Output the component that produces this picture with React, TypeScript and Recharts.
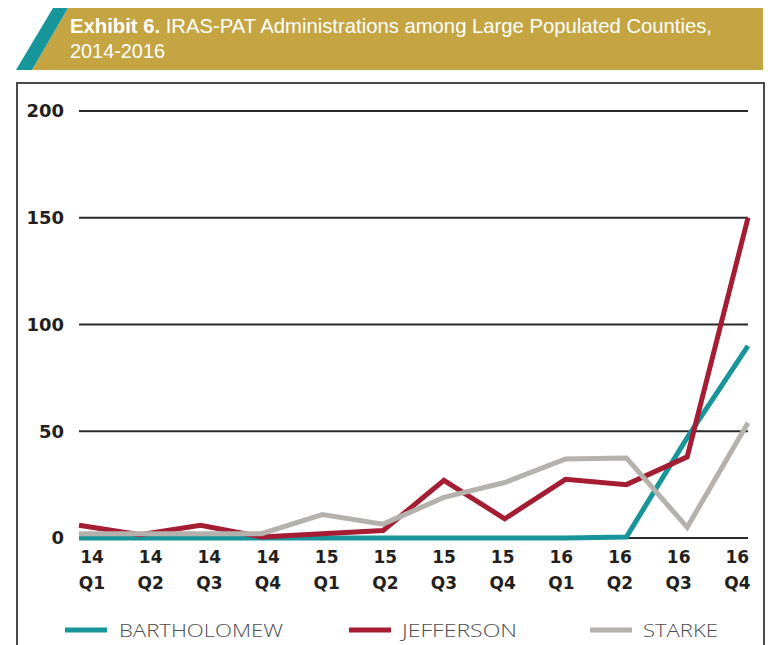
import React from 'react';
import { LineChart, Line, XAxis, YAxis, CartesianGrid, Legend } from 'recharts';

const quarters = ['14 Q1', '14 Q2', '14 Q3', '14 Q4', '15 Q1', '15 Q2', '15 Q3', '15 Q4', '16 Q1', '16 Q2', '16 Q3', '16 Q4'];
const bartholomew = [0, 0, 0, 0, 0, 0, 0, 0, 0, 0.5, 47, 90];
const jefferson = [6, 1.5, 6, 0.5, 2, 3.5, 27, 9, 27.5, 25, 38, 150];
const starke = [2, 2, 2, 2, 11, 6.5, 19, 26, 37, 37.5, 5, 54];
const yTicks = [0, 50, 100, 150, 200];

const TEAL = '#17959a';
const RED = '#a51d33';
const GREY = '#b5b1ac';

const series = [
    { key: 'BARTHOLOMEW', color: TEAL },
    { key: 'JEFFERSON', color: RED },
    { key: 'STARKE', color: GREY },
];

const data = quarters.map((q, i) => ({
    name: q,
    BARTHOLOMEW: bartholomew[i],
    JEFFERSON: jefferson[i],
    STARKE: starke[i],
}));

const tickFont = '"DejaVu Sans", sans-serif';
const titleFont = '"Liberation Sans", Arial, sans-serif';

const XTick = (props: any) => {
    const { x, y, payload, index } = props;
    const [yr, q] = String(payload.value).split(' ');
    // labels sit a bit inside the data points, like the original
    const dx = 13 - index * 2.15;
    return (
        <g transform={`translate(${x + dx},${y})`}>
            <text textAnchor="middle" y={17} fontFamily={tickFont} fontWeight={700} fontSize={17} fill="#231f20">{yr}</text>
            <text textAnchor="middle" y={43} fontFamily={tickFont} fontWeight={700} fontSize={17} fill="#231f20">{q}</text>
        </g>
    );
};

const legendSpots = [
    { sx: 65, tx: 119, tw: 164 },
    { sx: 349, tx: 402, tw: 115 },
    { sx: 590, tx: 643, tw: 75 },
];

const LegendContent = () => (
    <svg width={768} height={30} style={{ display: 'block' }}>
        {series.map((s, i) => (
            <g key={s.key}>
                <line x1={legendSpots[i].sx} x2={legendSpots[i].sx + 42} y1={15} y2={15} stroke={s.color} strokeWidth={5} />
                <text x={legendSpots[i].tx} y={22} fontFamily='"Open Sans", sans-serif' fontWeight={300} fontSize={19} fill="#4d4d4f"
                    textLength={legendSpots[i].tw} lengthAdjust="spacingAndGlyphs">{s.key}</text>
            </g>
        ))}
    </svg>
);

const App: React.FC = () => {
    return (
        <div style={{ position: 'absolute', left: 0, top: 0, width: 768, height: 645, overflow: 'hidden', background: '#fff' }}>
            {/* header banner */}
            <svg width={768} height={80} style={{ position: 'absolute', left: 0, top: 0 }}>
                <polygon points="68,8 763,8 763,70 32,70" fill="#c5a542" />
                <polygon points="53,8 68,8 32,70 16,70" fill="#16959b" />
                <text x={70} y={33} fontFamily={titleFont} fontSize={21} fill="#fff"
                    textLength={642} lengthAdjust="spacingAndGlyphs">
                    <tspan fontWeight={700}>Exhibit 6.</tspan>{'  IRAS-PAT Administrations among Large Populated Counties,'}
                </text>
                <text x={70} y={58} fontFamily={titleFont} fontSize={21} fill="#fff"
                    textLength={95} lengthAdjust="spacingAndGlyphs">2014-2016</text>
            </svg>
            {/* chart frame */}
            <div style={{ position: 'absolute', left: 16, top: 82, width: 745, height: 600, border: '2px solid #4a4a4a' }} />
            <div style={{ position: 'absolute', left: 0, top: 0 }}>
                <LineChart width={768} height={645} data={data} margin={{ top: 111, right: 20, bottom: 0, left: 0 }}>
                    <CartesianGrid vertical={false} stroke="#2b2b2b" strokeWidth={2} />
                    <XAxis dataKey="name" axisLine={false} tickLine={false} height={77} tick={<XTick />} interval={0} />
                    <YAxis domain={[0, 200]} ticks={yTicks} width={79} axisLine={false} tickLine={false} tickSize={0} tickMargin={15}
                        tick={{ fontFamily: tickFont, fontWeight: 700, fontSize: 18, fill: '#231f20' }} />
                    {series.map(s => (
                        <Line key={s.key} dataKey={s.key} stroke={s.color} strokeWidth={5} dot={false} isAnimationActive={false} strokeLinejoin="miter" />
                    ))}
                    <Legend verticalAlign="bottom" content={<LegendContent />} wrapperStyle={{ left: 0, top: 615, width: 768 }} />
                </LineChart>
            </div>
        </div>
    );
};

export default App;
